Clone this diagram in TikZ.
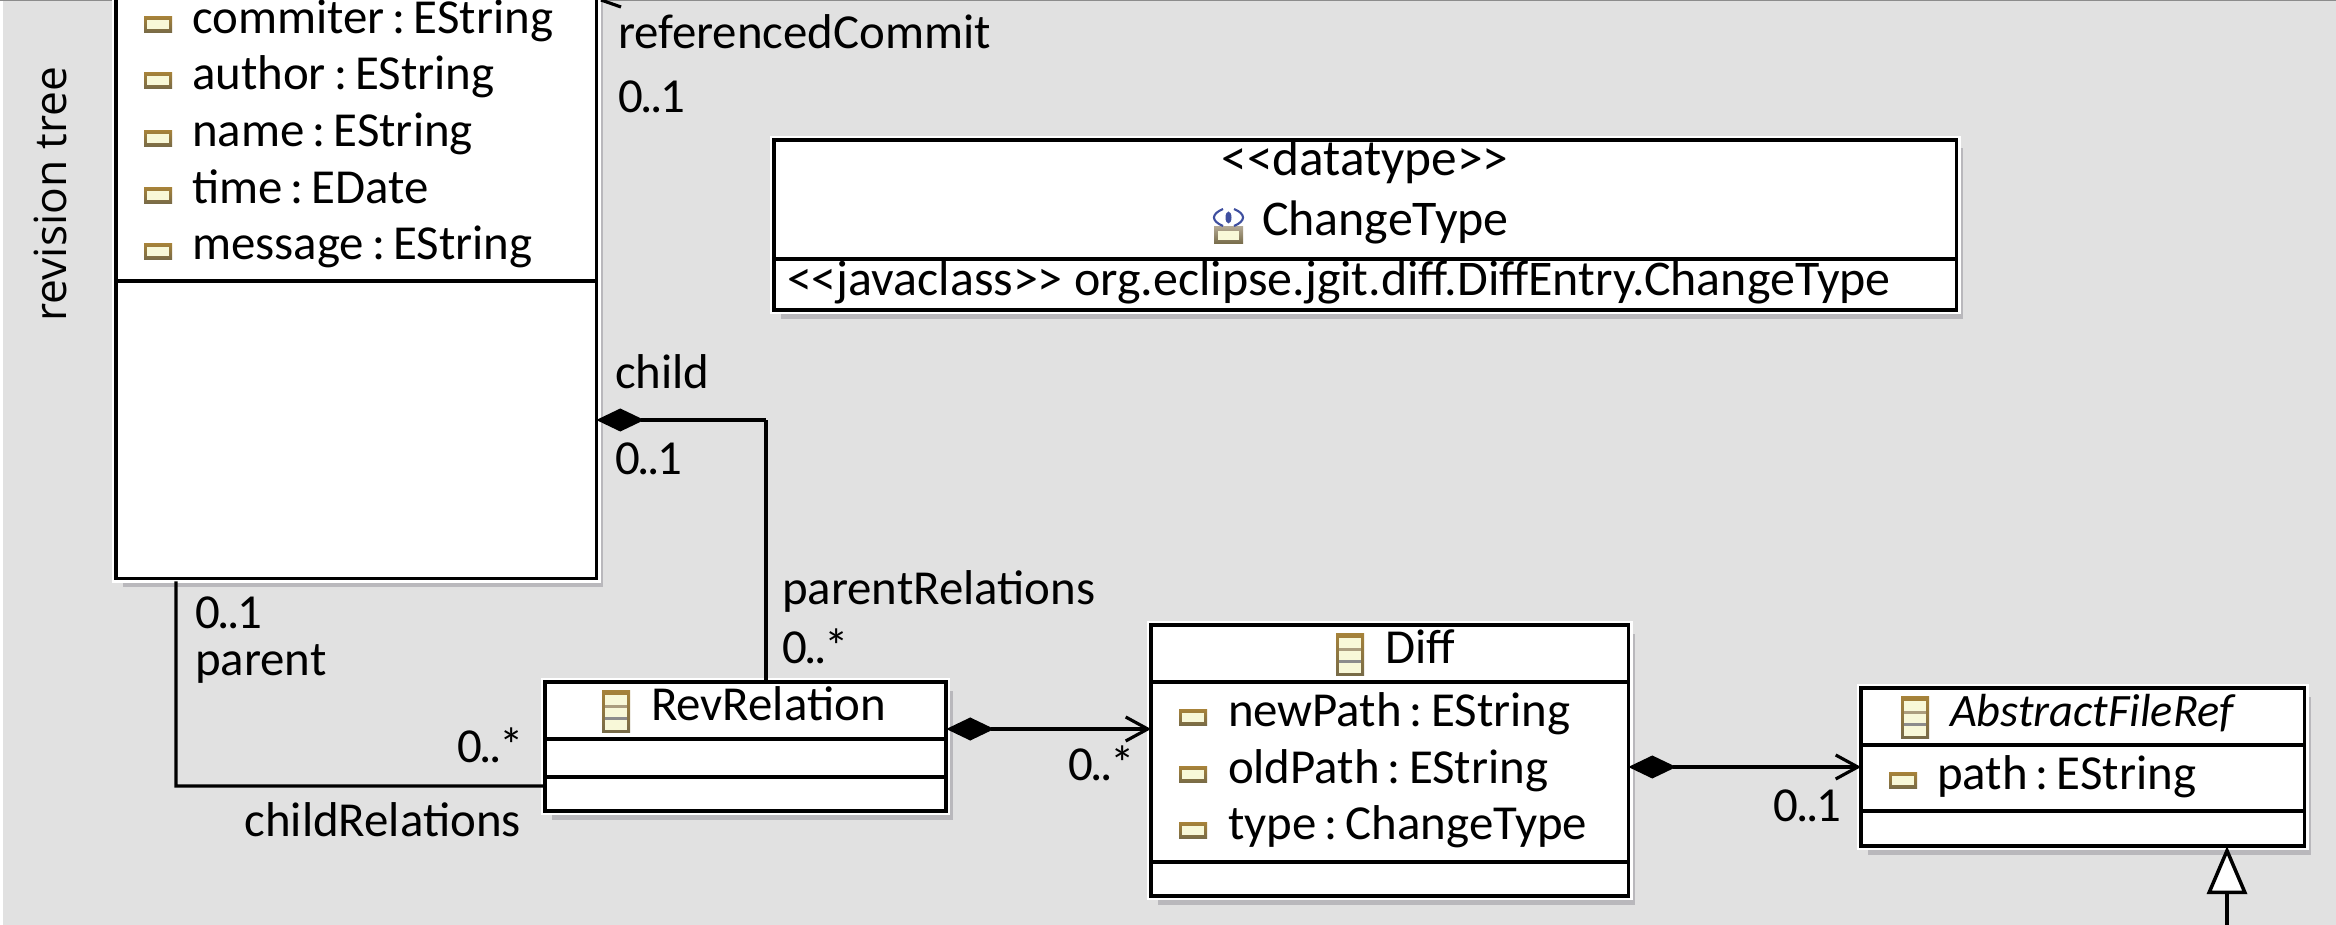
\documentclass[tikz,border=0pt]{standalone}
\usepackage{fontspec}
\setmainfont{Carlito}
\newfontfamily\sidefont{Open Sans}
\usetikzlibrary{arrows.meta,calc,shadows}
\definecolor{canvasgrey}{HTML}{E1E1E1}
\definecolor{shadowgrey}{HTML}{B9B8BC}
\definecolor{iconfill}{HTML}{F8F8D8}
\definecolor{icontop}{HTML}{A5823A}
\definecolor{iconbottom}{HTML}{766A48}
\definecolor{iconblue}{HTML}{3F4F9F}
\def\oftype{\kern2.3pt:\kern2.3pt}
\def\upto{\kern-0.7pt.\kern-0.7pt.\kern-0.6pt}
\def\attricon(#1,#2){\fill[top color=icontop,bottom color=iconbottom] (#1-14,#2-8) rectangle (#1+14,#2+8); \fill[iconfill] (#1-11,#2-4.5) rectangle (#1+11,#2+4.5);}
\def\classicon(#1,#2){\fill[top color=icontop,bottom color=iconbottom] (#1-14,#2-21) rectangle (#1+14,#2+21); \fill[iconfill] (#1-11,#2-17) rectangle (#1+11,#2+18); \fill[black!30!icontop!60] (#1-11,#2-7) rectangle (#1+11,#2-4); \fill[black!45] (#1-11,#2+5) rectangle (#1+11,#2+8);}
\tikzset{
	classbox/.style={draw=black, fill=white, line width=1pt, inner sep=0, outer sep=0, anchor=north west,
		general shadow={shadow xshift=0.065cm, shadow yshift=-0.085cm, fill=shadowgrey},
		preaction={draw=white, line width=2.4pt}},
	txt/.style={inner sep=0, outer sep=0, anchor=base west, font=\fontsize{13.9}{16}\selectfont},
	txtc/.style={txt, anchor=base},
	divider/.style={line width=1pt},
	assoc/.style={line width=0.9pt},
	owned/.style={line width=0.9pt, {Diamond[length=0.48cm,width=0.23cm]}-{Straight Barb[length=0.22cm,width=0.24cm,line width=0.9pt]}},
}

\begin{document}
\begin{tikzpicture}[x=0.01cm, y=-0.01cm]
		%%%%% START %%%%%
		
		\useasboundingbox (0, 0) rectangle (2336, 925);
		\clip (0, 0) rectangle (2336, 925);
		\fill[canvasgrey] (3, 0) rectangle (2336, 925);
		\fill[black!45] (0, 0) rectangle (2336, 1.5);
		
		\node[rotate=90, inner sep=0, font=\sidefont\fontsize{12.6}{15}\selectfont] (sideLabel) at (50, 194) {revision tree};
		
		\node[classbox, minimum width=4.8cm, minimum height=6.28cm] (commitBox) at (116, -50) {};
		\draw[divider] (commitBox.west |- 0, 281) -- (commitBox.east |- 0, 281);
		\attricon(158, 25);
		\attricon(158, 81);
		\attricon(158, 139);
		\attricon(158, 196);
		\attricon(158, 252);
		\node[txt] (commiterAttr) at (192, 34) {commiter\oftype EString};
		\node[txt] (authorAttr) at (192, 90) {author\oftype EString};
		\node[txt] (nameAttr) at (192, 147) {name\oftype EString};
		\node[txt] (timeAttr) at (192, 204) {time\oftype EDate};
		\node[txt] (messageAttr) at (192, 260) {message\oftype EString};
		
		\draw[line width=0.9pt] (601, 0) -- (621, 7);
		\node[txt] (referencedLabel) at (618, 49) {referencedCommit};
		\node[txt] (referencedMult) at (618, 113) {0\upto1};
		
		\node[classbox, minimum width=11.82cm, minimum height=1.70cm] (changeTypeBox) at (774, 140) {};
		\draw[divider] (changeTypeBox.west |- 0, 259) -- (changeTypeBox.east |- 0, 259);
		\node[txtc, font=\fontsize{14.6}{16}\selectfont] (datatypeLabel) at (1365, 176) {<{}<datatype>{}>};
		\node[txt, font=\fontsize{14.2}{16}\selectfont] (changeTypeName) at (1262, 236) {ChangeType};
		\node[txt, font=\fontsize{14.2}{16}\selectfont] (javaclassLabel) at (787, 296) {<{}<javaclass>{}> org.eclipse.jgit.diff.DiffEntry.ChangeType};
		\fill[top color=icontop!60!black!50, bottom color=iconbottom] (1214, 227) rectangle (1243, 244);
		\fill[iconfill] (1218, 231) rectangle (1239, 240);
		\draw[iconblue, line width=0.6pt] (1223, 209) .. controls (1211, 214) and (1211, 221) .. (1223, 226);
		\draw[iconblue, line width=0.6pt] (1234, 209) .. controls (1246, 214) and (1246, 221) .. (1234, 226);
		\fill[iconblue] (1228.5, 217.5) ellipse (3 and 6);
		
		\node[classbox, minimum width=4.01cm, minimum height=1.29cm] (revRelationBox) at (545, 682) {};
		\draw[divider] (revRelationBox.west |- 0, 739) -- (revRelationBox.east |- 0, 739);
		\draw[divider] (revRelationBox.west |- 0, 777) -- (revRelationBox.east |- 0, 777);
		\classicon(616, 712);
		\node[txt] (revRelationName) at (651, 721) {RevRelation};
		
		\node[classbox, minimum width=4.77cm, minimum height=2.71cm] (diffBox) at (1151, 625) {};
		\draw[divider] (diffBox.west |- 0, 682) -- (diffBox.east |- 0, 682);
		\draw[divider] (diffBox.west |- 0, 862) -- (diffBox.east |- 0, 862);
		\classicon(1350, 655);
		\node[txt] (diffName) at (1385, 664) {Diff};
		\attricon(1193, 718);
		\attricon(1193, 775);
		\attricon(1193, 831);
		\node[txt] (newPathAttr) at (1228, 727) {newPath\oftype EString};
		\node[txt] (oldPathAttr) at (1228, 784) {oldPath\oftype EString};
		\node[txt] (typeAttr) at (1228, 840) {type\oftype ChangeType};
		
		\node[classbox, minimum width=4.43cm, minimum height=1.58cm] (fileRefBox) at (1861, 688) {};
		\draw[divider] (fileRefBox.west |- 0, 745) -- (fileRefBox.east |- 0, 745);
		\draw[divider] (fileRefBox.west |- 0, 811) -- (fileRefBox.east |- 0, 811);
		\classicon(1915, 718);
		\node[txt, font=\fontsize{13.2}{16}\selectfont\itshape] (fileRefName) at (1950, 727) {AbstractFileRef};
		\attricon(1903, 781);
		\node[txt] (pathAttr) at (1937, 790) {path\oftype EString};
		
		% parent end
		\coordinate (parentCorner) at (176, 786);
		\draw[assoc] ([xshift=-1.8cm, yshift=-0.03cm]commitBox.south) -- (parentCorner) -- (revRelationBox.west |- parentCorner);
		\node[txt] (parentMult) at (195, 629) {0\upto1};
		\node[txt] (parentLabel) at (195, 676) {parent};
		\node[txt, anchor=base east] (childRelMult) at (524, 763) {0\upto*};
		\node[txt, anchor=base east] (childRelLabel) at (521, 837) {childRelations};
		
		% child end
		\coordinate (childCorner) at (766, 420);
		\draw[assoc] (revRelationBox.north -| childCorner) -- (childCorner);
		\draw[assoc, {Diamond[length=0.48cm,width=0.23cm]}-] (commitBox.east |- childCorner) -- (childCorner);
		\node[txt] (childLabel) at (615, 389) {child};
		\node[txt] (childMult) at (615, 475) {0\upto1};
		\node[txt] (parentRelLabel) at (782, 605) {parentRelations};
		\node[txt] (parentRelMult) at (782, 664) {0\upto*};
		
		\coordinate (diffArrow) at (946, 729);
		\draw[owned] (revRelationBox.east |- diffArrow) -- (diffBox.west |- diffArrow);
		\node[txt, anchor=base east] (diffMult) at (1135, 781) {0\upto*};
		
		\coordinate (refArrow) at (1628, 767);
		\draw[owned] (diffBox.east |- refArrow) -- (fileRefBox.west |- refArrow);
		\node[txt, anchor=base east] (fileRefMult) at (1841, 821) {0\upto1};
		
		\coordinate (superEnd) at (2227, 930);
		\draw[assoc, -{Triangle[open, fill=white, length=0.48cm, width=0.40cm, line width=1pt]}] (superEnd) -- (fileRefBox.south -| superEnd);
		
		%%%%% END %%%%%
	\end{tikzpicture}
\end{document}
